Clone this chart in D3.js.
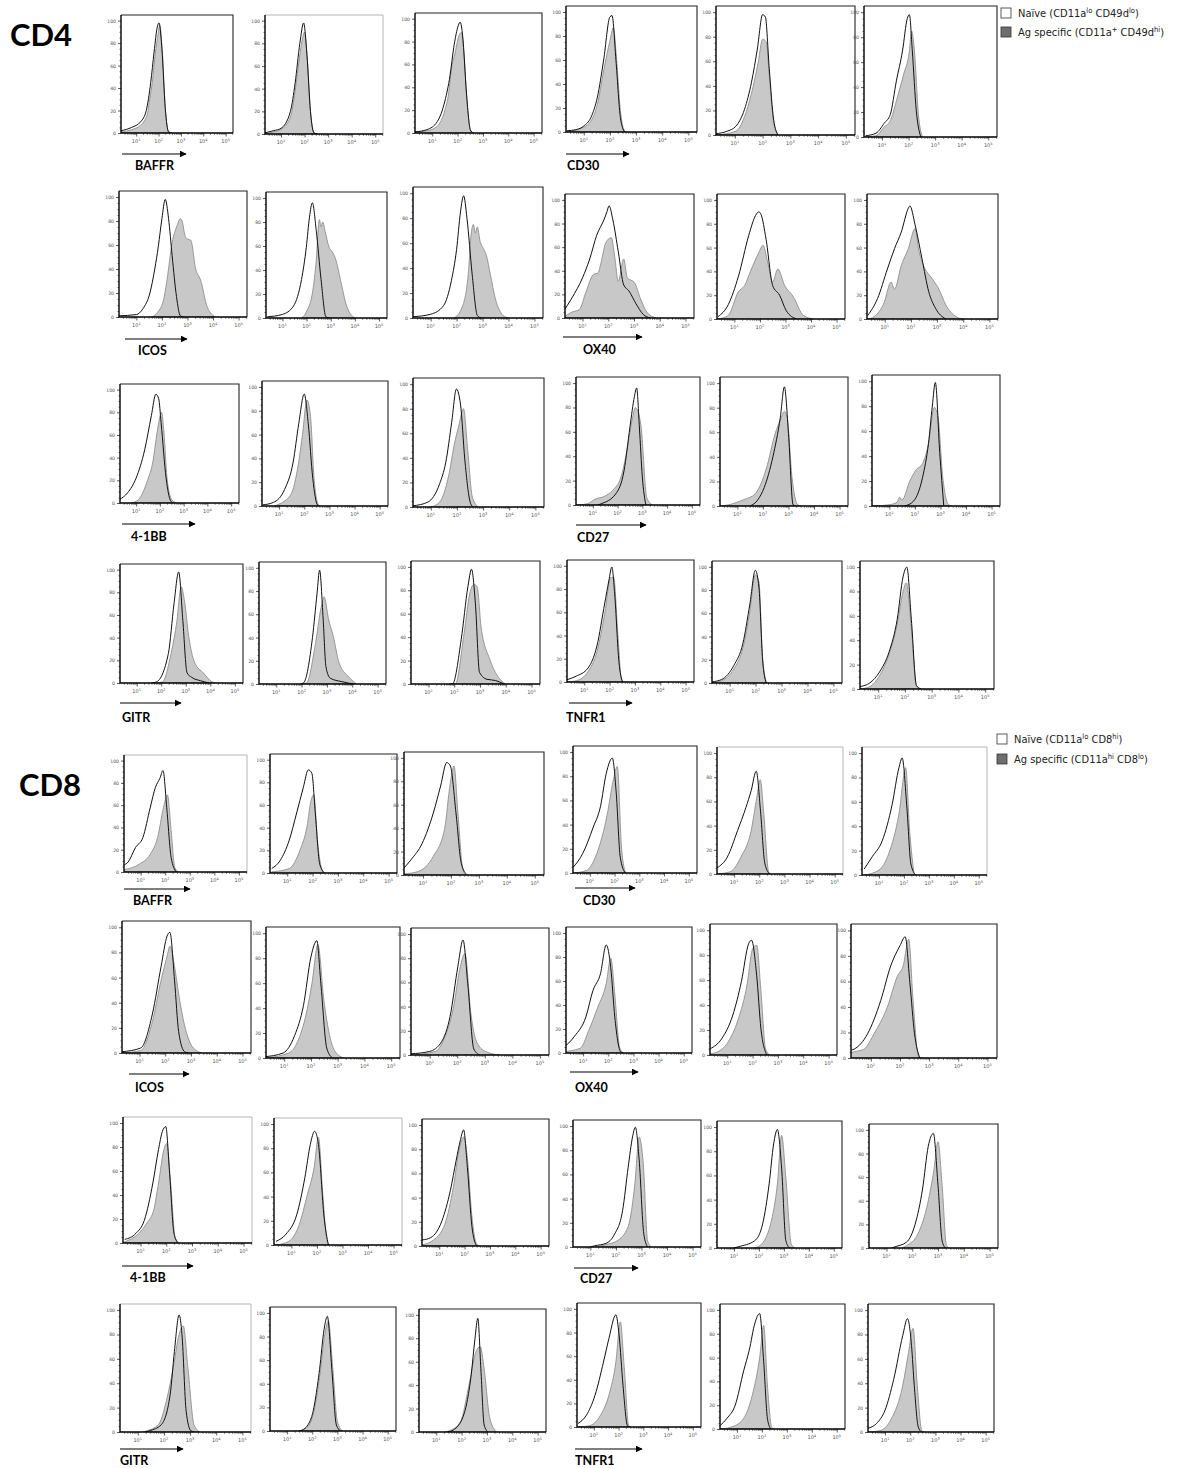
<!DOCTYPE html>
<html>
<head>
<meta charset="utf-8">
<script src="https://cdn.jsdelivr.net/npm/d3@7"></script>
<style>
  body { margin: 0; background: #fff; }
  svg { display: block; }
</style>
</head>
<body>
<svg id="fig" width="1185" height="1468"></svg>
<script>
// ---- data: histogram outlines as [log10 fluorescence, % of max] ----
const markerPairs = [["BAFFR", "CD30"], ["ICOS", "OX40"], ["4-1BB", "CD27"], ["GITR", "TNFR1"]];
const blockNames = ["CD4", "CD8"];
const yTicks = [0, 20, 40, 60, 80, 100];
const xDecades = [1, 2, 3, 4, 5];

const cd4Legend = [
  [["Naïve (CD11a", 0], ["lo", 1], [" CD49d", 0], ["lo", 1], [")", 0]],
  [["Ag specific  (CD11a", 0], ["+", 1], [" CD49d", 0], ["hi", 1], [")", 0]]
];
const cd8Legend = [
  [["Naïve (CD11a", 0], ["lo", 1], [" CD8", 0], ["hi", 1], [")", 0]],
  [["Ag specific  (CD11a", 0], ["hi", 1], [" CD8", 0], ["lo", 1], [")", 0]]
];

// CD4
const cd4BaffrNaive = [
  [[0.32,2],[0.8,5],[1.2,10],[1.45,20],[1.65,45],[1.8,72],[1.95,95],[2.02,98],[2.15,75],[2.3,22],[2.45,1],[2.6,0]],
  [[0.32,1],[0.7,3],[1.0,5],[1.4,20],[1.6,45],[1.8,80],[1.96,98],[2.1,70],[2.25,20],[2.4,1],[2.55,0]],
  [[0.32,1],[0.8,3],[1.2,10],[1.5,28],[1.7,50],[1.85,75],[2.0,92],[2.1,97],[2.2,85],[2.35,35],[2.5,3],[2.6,0]]
];
const cd4BaffrAg = [
  [[0.32,1],[0.8,3],[1.2,7],[1.5,17],[1.6,30],[1.7,42],[1.85,70],[1.98,88],[2.05,96],[2.17,72],[2.3,22],[2.45,1],[2.6,0]],
  [[0.32,0],[0.7,2],[1.0,4],[1.4,15],[1.6,38],[1.8,70],[1.92,85],[2.0,90],[2.12,65],[2.25,20],[2.4,1],[2.55,0]],
  [[0.32,1],[0.8,2],[1.2,6],[1.5,20],[1.65,35],[1.75,55],[1.9,70],[2.05,85],[2.15,88],[2.25,70],[2.38,25],[2.52,2],[2.65,0]]
];
const cd4Cd30Naive = [
  [[0.35,1],[0.71,2],[1.0,5],[1.27,12],[1.52,29],[1.76,60],[2.0,96],[2.08,97],[2.24,57],[2.4,12],[2.56,0]],
  [[0.32,1],[0.71,3],[1.03,7],[1.35,21],[1.6,43],[1.81,70],[2.0,98],[2.1,96],[2.24,54],[2.4,12],[2.56,0]],
  [[0.38,1],[0.77,3],[1.08,11],[1.31,18],[1.54,45],[1.77,69],[1.95,95],[2.03,98],[2.14,69],[2.29,21],[2.46,0]]
];
const cd4Cd30Ag = [
  [[0.35,0],[1.0,4],[1.27,9],[1.52,23],[1.76,51],[2.0,76],[2.13,87],[2.24,65],[2.4,18],[2.56,1],[2.65,0]],
  [[0.32,0],[1.03,3],[1.35,15],[1.6,34],[1.84,59],[2.0,78],[2.13,76],[2.24,48],[2.4,10],[2.56,0]],
  [[0.38,0],[0.77,1],[1.08,8],[1.31,13],[1.54,29],[1.81,50],[2.03,69],[2.11,85],[2.22,69],[2.37,18],[2.52,0]]
];
const cd4IcosNaive = [
  [[0.3,1],[1.0,2],[1.26,7],[1.53,20],[1.72,40],[1.86,59],[2.0,82],[2.13,98],[2.26,82],[2.4,51],[2.57,17],[2.72,1],[2.85,0]],
  [[0.37,1],[1.0,3],[1.46,10],[1.79,32],[1.99,59],[2.12,84],[2.24,96],[2.4,73],[2.6,32],[2.8,1],[2.95,0]],
  [[0.3,1],[1.0,3],[1.5,10],[1.8,30],[2.0,55],[2.15,85],[2.27,98],[2.4,80],[2.6,35],[2.8,2],[2.95,0]]
];
const cd4IcosAg = [
  [[1.6,0],[1.79,3],[2.06,14],[2.2,31],[2.4,62],[2.59,76],[2.72,82],[2.79,80],[2.9,68],[2.99,65],[3.13,64],[3.32,40],[3.51,31],[3.78,8],[4.1,0]],
  [[1.8,0],[1.99,5],[2.26,23],[2.4,48],[2.53,82],[2.6,76],[2.67,80],[2.77,72],[2.93,59],[3.07,55],[3.22,48],[3.4,32],[3.66,10],[3.99,0]],
  [[1.9,0],[2.2,8],[2.45,35],[2.55,65],[2.65,75],[2.72,68],[2.8,73],[2.9,62],[3.05,55],[3.15,50],[3.3,35],[3.5,15],[3.8,2],[4.0,0]]
];
const cd4Ox40Naive = [
  [[0.24,5],[0.59,17],[1.0,34],[1.28,50],[1.55,70],[1.83,83],[1.95,90],[2.03,95],[2.18,83],[2.39,56],[2.6,28],[2.8,23],[3.08,12],[3.36,3],[3.64,0]],
  [[0.36,2],[0.76,12],[1.16,36],[1.56,70],[1.83,87],[1.95,90],[2.04,88],[2.24,67],[2.5,28],[2.77,20],[3.03,7],[3.43,0]],
  [[0.35,3],[0.72,17],[1.1,42],[1.37,59],[1.63,73],[1.9,93],[1.96,95],[2.16,79],[2.42,51],[2.68,23],[2.94,9],[3.33,0]]
];
const cd4Ox40Ag = [
  [[0.24,0],[0.59,5],[0.87,7],[1.15,23],[1.43,37],[1.6,38],[1.7,45],[1.91,64],[2.12,68],[2.25,52],[2.39,31],[2.6,50],[2.74,34],[3.02,30],[3.24,17],[3.5,5],[3.85,0]],
  [[0.36,0],[0.76,3],[1.16,23],[1.4,28],[1.63,40],[1.96,56],[2.12,62],[2.3,48],[2.5,31],[2.7,42],[2.97,28],[3.3,19],[3.7,3],[4.1,0]],
  [[0.35,0],[0.59,2],[0.98,14],[1.24,31],[1.37,25],[1.63,45],[1.9,59],[2.16,76],[2.29,59],[2.48,45],[2.81,34],[3.07,25],[3.33,12],[3.72,2],[3.98,0]]
];
const cd4FourOneBbNaive = [
  [[0.29,3],[0.64,9],[1.0,22],[1.36,47],[1.64,77],[1.83,96],[1.95,92],[2.05,71],[2.26,22],[2.45,2],[2.55,0]],
  [[0.36,1],[0.77,3],[1.22,14],[1.56,37],[1.78,69],[2.0,94],[2.16,69],[2.34,23],[2.52,1],[2.6,0]],
  [[0.32,1],[0.89,4],[1.34,19],[1.57,36],[1.8,69],[1.98,96],[2.14,83],[2.3,39],[2.52,3],[2.62,0]]
];
const cd4FourOneBbAg = [
  [[0.8,0],[1.1,3],[1.48,20],[1.71,37],[1.88,62],[2.07,80],[2.17,62],[2.3,22],[2.5,3],[2.7,0]],
  [[0.8,0],[1.45,9],[1.78,37],[1.93,60],[2.11,89],[2.25,75],[2.39,23],[2.57,1],[2.65,0]],
  [[1.0,0],[1.34,4],[1.68,25],[1.91,52],[2.07,66],[2.25,80],[2.41,47],[2.59,8],[2.82,0]]
];
const cd4Cd27Naive = [
  [[1.2,0],[1.34,1],[1.92,9],[2.26,28],[2.5,64],[2.68,89],[2.77,96],[2.88,64],[3.0,23],[3.14,0]],
  [[1.5,0],[1.8,5],[2.05,15],[2.39,40],[2.68,72],[2.84,97],[3.0,59],[3.18,1],[3.3,0]],
  [[1.6,0],[1.95,4],[2.3,23],[2.53,50],[2.68,80],[2.8,99],[2.97,43],[3.13,0]]
];
const cd4Cd27Ag = [
  [[0.38,0],[0.77,1],[1.11,5],[1.46,7],[1.8,12],[2.14,23],[2.38,45],[2.61,72],[2.72,80],[2.77,79],[2.95,64],[3.18,6],[3.41,0]],
  [[0.39,0],[0.66,1],[1.23,5],[1.7,10],[2.14,31],[2.48,59],[2.68,70],[2.84,77],[2.95,72],[3.14,23],[3.36,1],[3.5,0]],
  [[0.36,0],[1.0,1],[1.3,3],[1.4,7],[1.5,5],[1.8,20],[2.05,29],[2.3,34],[2.53,50],[2.76,79],[2.9,72],[3.09,23],[3.32,1],[3.45,0]]
];
const cd4GitrNaive = [
  [[1.6,0],[1.81,1],[2.29,26],[2.52,70],[2.71,98],[2.88,55],[3.05,9],[3.24,5],[3.6,2],[3.95,0]],
  [[1.95,0],[2.08,1],[2.43,40],[2.61,78],[2.71,98],[2.85,56],[2.96,15],[3.13,5],[3.59,2],[4.06,0]],
  [[1.8,0],[1.93,0],[2.27,38],[2.53,83],[2.67,98],[2.82,69],[2.98,10],[3.27,4],[3.6,3],[3.93,0]]
];
const cd4GitrAg = [
  [[1.8,0],[2.05,1],[2.4,26],[2.64,55],[2.81,85],[2.95,72],[3.12,41],[3.36,18],[3.71,9],[4.07,1],[4.2,0]],
  [[2.05,0],[2.2,1],[2.55,35],[2.78,67],[2.89,75],[3.06,56],[3.25,41],[3.48,18],[3.82,7],[4.17,0]],
  [[1.9,0],[2.04,0],[2.38,43],[2.6,77],[2.76,85],[2.89,83],[3.04,49],[3.38,21],[3.82,3],[4.0,0]]
];
const cd4Tnfr1Naive = [
  [[0.32,2],[0.68,5],[1.15,12],[1.5,31],[1.81,68],[1.97,87],[2.09,99],[2.2,76],[2.37,17],[2.51,0]],
  [[0.32,1],[0.69,3],[1.16,15],[1.51,34],[1.78,68],[1.99,97],[2.13,82],[2.27,20],[2.41,0]],
  [[0.32,2],[0.69,5],[1.05,14],[1.4,30],[1.71,57],[1.93,92],[2.07,100],[2.24,57],[2.43,3],[2.6,0]]
];
const cd4Tnfr1Ag = [
  [[0.32,0],[0.68,1],[1.15,9],[1.5,26],[1.81,59],[2.05,90],[2.16,90],[2.33,40],[2.47,2],[2.6,0]],
  [[0.32,0],[0.69,2],[1.16,12],[1.51,30],[1.78,62],[1.99,93],[2.13,87],[2.27,22],[2.43,0]],
  [[0.32,0],[0.69,2],[1.05,11],[1.4,28],[1.71,53],[1.93,80],[2.05,87],[2.24,50],[2.43,2],[2.6,0]]
];

// CD8
const cd8BaffrNaive = [
  [[0.28,6],[0.49,9],[0.79,22],[1.09,31],[1.39,58],[1.6,76],[1.78,84],[1.91,91],[2.06,58],[2.24,13],[2.45,0]],
  [[0.39,4],[0.72,11],[1.08,29],[1.36,52],[1.64,76],[1.83,91],[1.97,88],[2.11,52],[2.28,8],[2.47,0]],
  [[0.32,6],[0.57,13],[0.97,27],[1.37,53],[1.63,76],[1.85,96],[1.98,93],[2.18,53],[2.37,10],[2.58,0]]
];
const cd8BaffrAg = [
  [[0.28,2],[0.94,7],[1.39,16],[1.69,31],[1.93,58],[2.09,69],[2.24,37],[2.39,4],[2.54,0]],
  [[0.39,1],[1.08,4],[1.5,20],[1.78,41],[1.94,64],[2.05,69],[2.19,29],[2.39,2],[2.5,0]],
  [[0.32,1],[0.83,3],[1.37,16],[1.77,39],[1.98,79],[2.11,93],[2.25,53],[2.43,4],[2.55,0]]
];
const cd8Cd30Naive = [
  [[0.34,5],[0.71,16],[1.14,38],[1.43,55],[1.66,82],[1.91,95],[2.06,68],[2.23,13],[2.43,0]],
  [[0.32,5],[0.73,14],[1.14,36],[1.47,55],[1.68,69],[1.88,85],[2.05,52],[2.22,9],[2.41,0]],
  [[0.41,5],[0.73,15],[1.13,28],[1.53,58],[1.8,88],[1.93,96],[2.12,55],[2.28,9],[2.47,0]]
];
const cd8Cd30Ag = [
  [[0.34,0],[0.85,2],[1.28,16],[1.71,49],[1.94,76],[2.11,88],[2.28,21],[2.45,0]],
  [[0.32,0],[0.86,2],[1.27,14],[1.68,36],[1.9,63],[2.04,78],[2.18,50],[2.37,2],[2.45,0]],
  [[0.41,0],[1.0,4],[1.4,18],[1.8,50],[2.07,88],[2.23,36],[2.41,0]]
];
const cd8IcosNaive = [
  [[0.32,1],[1.05,4],[1.5,31],[1.84,69],[2.07,93],[2.18,96],[2.36,58],[2.52,17],[2.75,1],[2.9,0]],
  [[0.26,1],[0.96,4],[1.39,18],[1.72,42],[2.0,81],[2.22,94],[2.37,60],[2.59,8],[2.8,0]],
  [[0.32,1],[1.0,3],[1.43,11],[1.74,32],[2.02,73],[2.21,95],[2.38,59],[2.6,5],[2.81,0]]
];
const cd8IcosAg = [
  [[0.32,0],[1.05,2],[1.5,25],[1.84,58],[2.07,77],[2.18,85],[2.36,69],[2.52,47],[2.75,22],[3.09,4],[3.43,0]],
  [[0.26,0],[1.17,4],[1.5,13],[1.83,36],[2.04,60],[2.26,91],[2.48,47],[2.7,18],[2.91,5],[3.24,0]],
  [[0.32,0],[1.21,3],[1.53,14],[1.85,38],[2.11,73],[2.28,84],[2.49,35],[2.7,11],[3.02,3],[3.55,0]]
];
const cd8Ox40Naive = [
  [[0.2,4],[0.66,14],[1.11,30],[1.39,52],[1.69,66],[1.92,90],[2.1,71],[2.26,30],[2.49,1],[2.6,0]],
  [[0.33,5],[0.78,13],[1.22,32],[1.56,59],[1.84,89],[1.96,92],[2.16,64],[2.33,21],[2.56,0]],
  [[0.09,5],[0.43,7],[0.89,19],[1.34,45],[1.68,72],[2.0,88],[2.18,95],[2.34,59],[2.5,19],[2.68,0]]
];
const cd8Ox40Ag = [
  [[0.2,1],[0.89,4],[1.23,19],[1.58,38],[1.92,58],[2.1,79],[2.26,49],[2.45,5],[2.6,0]],
  [[0.33,1],[0.67,3],[1.11,13],[1.44,29],[1.78,56],[2.0,85],[2.16,88],[2.33,51],[2.51,5],[2.67,0]],
  [[0.09,1],[0.32,4],[0.77,7],[1.11,19],[1.57,40],[1.91,64],[2.11,72],[2.3,93],[2.45,45],[2.64,1],[2.8,0]]
];
const cd8FourOneBbNaive = [
  [[0.39,3],[0.82,8],[1.15,19],[1.48,50],[1.7,78],[1.85,93],[1.98,97],[2.13,58],[2.3,8],[2.46,0]],
  [[0.4,3],[0.79,9],[1.21,25],[1.53,56],[1.74,83],[1.91,94],[2.06,83],[2.28,23],[2.45,0]],
  [[0.33,5],[0.67,7],[1.11,21],[1.44,46],[1.67,71],[1.84,88],[1.96,96],[2.11,65],[2.29,16],[2.47,0]]
];
const cd8FourOneBbAg = [
  [[0.39,1],[0.93,8],[1.26,17],[1.52,28],[1.7,50],[1.91,78],[2.02,83],[2.17,50],[2.35,4],[2.5,0]],
  [[0.4,0],[0.9,3],[1.31,17],[1.63,42],[1.89,64],[2.06,89],[2.23,42],[2.4,3],[2.5,0]],
  [[0.33,1],[0.78,5],[1.22,18],[1.56,49],[1.78,79],[1.96,90],[2.11,73],[2.29,24],[2.47,2],[2.6,0]]
];
const cd8Cd27Naive = [
  [[1.0,0],[1.17,1],[1.61,3],[1.93,10],[2.26,30],[2.48,66],[2.65,91],[2.76,99],[2.91,72],[3.09,11],[3.24,0]],
  [[1.0,0],[1.17,1],[1.83,6],[2.15,20],[2.41,53],[2.59,86],[2.74,98],[2.91,66],[3.08,6],[3.23,0]],
  [[1.2,0],[1.33,1],[1.78,5],[2.11,20],[2.4,50],[2.62,86],[2.82,97],[3.0,53],[3.16,6],[3.29,0]]
];
const cd8Cd27Ag = [
  [[1.2,0],[1.61,2],[2.04,5],[2.48,17],[2.74,52],[2.91,91],[3.07,69],[3.24,5],[3.39,0]],
  [[1.8,0],[2.04,2],[2.47,20],[2.74,53],[2.91,93],[3.08,58],[3.3,3],[3.44,0]],
  [[1.6,0],[1.78,2],[2.22,12],[2.56,34],[2.84,66],[3.0,90],[3.16,53],[3.33,2],[3.45,0]]
];
const cd8GitrNaive = [
  [[1.3,0],[1.45,1],[1.9,6],[2.24,31],[2.4,66],[2.58,96],[2.69,80],[2.85,17],[3.03,1],[3.15,0]],
  [[1.45,0],[1.62,1],[1.96,11],[2.29,52],[2.47,86],[2.6,97],[2.78,52],[2.96,5],[3.13,0]],
  [[1.45,0],[1.62,1],[2.04,12],[2.38,49],[2.53,80],[2.64,97],[2.76,54],[2.89,6],[3.04,0]]
];
const cd8GitrAg = [
  [[1.2,0],[1.34,1],[1.79,6],[2.12,28],[2.35,52],[2.58,80],[2.74,87],[2.92,52],[3.15,6],[3.37,0]],
  [[1.5,0],[1.84,4],[2.1,20],[2.33,52],[2.5,82],[2.64,93],[2.82,52],[3.0,8],[3.2,0]],
  [[1.35,0],[1.51,1],[1.96,9],[2.29,40],[2.56,68],[2.73,73],[2.89,54],[3.11,12],[3.38,0]]
];
const cd8Tnfr1Naive = [
  [[0.36,3],[0.7,10],[1.05,27],[1.39,55],[1.61,75],[1.89,95],[2.02,78],[2.18,35],[2.36,1],[2.45,0]],
  [[0.33,3],[0.6,9],[0.93,20],[1.27,49],[1.49,66],[1.72,89],[1.91,97],[2.07,57],[2.22,9],[2.35,0]],
  [[0.31,3],[0.66,7],[1.0,18],[1.34,43],[1.7,79],[1.89,93],[2.05,71],[2.16,38],[2.32,4],[2.45,0]]
];
const cd8Tnfr1Ag = [
  [[0.36,0],[0.81,1],[1.27,10],[1.61,27],[1.89,55],[2.07,89],[2.23,50],[2.41,1],[2.5,0]],
  [[0.33,0],[0.82,2],[1.27,9],[1.61,28],[1.91,60],[2.07,87],[2.22,37],[2.4,1],[2.5,0]],
  [[0.31,0],[0.77,1],[1.23,10],[1.7,38],[1.93,65],[2.11,85],[2.28,38],[2.46,1],[2.55,0]]
];

// rows of [left marker set, right marker set]
const cd4Rows = [
  [[cd4BaffrNaive, cd4BaffrAg], [cd4Cd30Naive, cd4Cd30Ag]],
  [[cd4IcosNaive, cd4IcosAg], [cd4Ox40Naive, cd4Ox40Ag]],
  [[cd4FourOneBbNaive, cd4FourOneBbAg], [cd4Cd27Naive, cd4Cd27Ag]],
  [[cd4GitrNaive, cd4GitrAg], [cd4Tnfr1Naive, cd4Tnfr1Ag]]
];
const cd8Rows = [
  [[cd8BaffrNaive, cd8BaffrAg], [cd8Cd30Naive, cd8Cd30Ag]],
  [[cd8IcosNaive, cd8IcosAg], [cd8Ox40Naive, cd8Ox40Ag]],
  [[cd8FourOneBbNaive, cd8FourOneBbAg], [cd8Cd27Naive, cd8Cd27Ag]],
  [[cd8GitrNaive, cd8GitrAg], [cd8Tnfr1Naive, cd8Tnfr1Ag]]
];

// ---- layout (pixel frames of each pasted panel: left, top, right, bottom) ----
const cd4Frames = [
  [121,15,233,133],[265,15,383,134],[415,13,542,133],[566,6,697,132],[716,6,855,135],[864,6,997,137],
  [119,191,247,317],[266,192,387,318],[413,187,543,318],[565,194,694,318],[717,194,845,319],[867,194,998,319],
  [120,384,239,503],[262,381,388,506],[413,378,544,507],[576,377,700,505],[720,377,848,506],[872,375,1000,506],
  [120,564,243,683],[259,562,386,684],[411,561,540,684],[567,560,694,682],[712,561,842,683],[860,561,994,689]
];
const cd8Frames = [
  [124,755,247,872],[270,754,397,873],[404,752,544,875],[573,746,697,873],[717,747,843,874],[862,747,987,875],
  [122,921,251,1053],[266,927,400,1058],[411,928,549,1055],[566,927,692,1053],[710,924,837,1055],[851,924,997,1058],
  [123,1117,252,1243],[274,1118,402,1245],[422,1119,549,1246],[573,1120,701,1247],[717,1121,842,1248],[869,1124,998,1248],
  [120,1304,251,1432],[270,1307,396,1431],[419,1309,546,1432],[577,1303,701,1427],[720,1304,845,1429],[868,1304,994,1432]
];
// light frame borders on a few panels
const cd4Light = [1];
const cd8Light = [0, 4, 5, 12, 13, 18];

// label: [text x, baseline, arrow x1, arrow x2, arrow y]
const cd4LabelPos = [
  [[135,170,122,186,154],[567,170,566,629,154]],
  [[138,355,125,187,339],[583,354,563,642,337]],
  [[131,541,122,195,524],[577,542,576,646,525]],
  [[122,722,120,181,703],[566,722,569,632,703]]
];
const cd8LabelPos = [
  [[133,905,124,190,889],[583,905,575,635,888]],
  [[135,1092,129,189,1074],[575,1092,570,638,1072]],
  [[130,1282,122,193,1266],[580,1283,574,638,1268]],
  [[120,1465,120,183,1449],[575,1465,575,642,1449]]
];

const xExtent = [Math.pow(10, 0.32), Math.pow(10, 5.33)];
const svg = d3.select("#fig");

svg.append("defs").append("marker")
  .attr("id", "arrow")
  .attr("viewBox", "0 0 10 10")
  .attr("refX", 9).attr("refY", 5)
  .attr("markerWidth", 7).attr("markerHeight", 7)
  .attr("markerUnits", "userSpaceOnUse")
  .attr("orient", "auto")
  .append("path")
  .attr("d", "M0,0L10,5L0,10Z")
  .attr("fill", "context-stroke");

let clipId = 0;

function drawPanel(frame, naive, ag, light) {
  const [L, T, R, B] = frame;
  const x = d3.scaleLog().domain(xExtent).range([L, R]);
  const y = d3.scaleLinear().domain([0, 105]).range([B, T]);
  const g = svg.append("g");

  const id = "clip" + (clipId++);
  svg.select("defs").append("clipPath").attr("id", id)
    .append("rect").attr("x", L).attr("y", T).attr("width", R - L).attr("height", B - T);

  const area = d3.area()
    .x(d => x(Math.pow(10, d[0])))
    .y0(y(0))
    .y1(d => y(d[1]))
    .curve(d3.curveMonotoneX);
  const line = d3.line()
    .x(d => x(Math.pow(10, d[0])))
    .y(d => y(d[1]))
    .curve(d3.curveMonotoneX);

  const plot = g.append("g").attr("clip-path", `url(#${id})`);
  plot.append("path")
    .datum(ag)
    .attr("fill", "#c8c8c8")
    .attr("stroke", "#8f8f8f")
    .attr("stroke-width", 0.9)
    .attr("d", area);
  plot.append("path")
    .datum(naive)
    .attr("fill", "none")
    .attr("stroke", "#111")
    .attr("stroke-width", 1)
    .attr("d", line);

  // frame top + right
  g.append("path")
    .attr("d", `M${L},${T}H${R}V${B}`)
    .attr("fill", "none")
    .attr("stroke", light ? "#b5b5b5" : "#222")
    .attr("stroke-width", light ? 1 : 1.1);

  // x axis: major decades and minor ticks
  const minor = [];
  for (let k = 0; k <= 5; k++) {
    for (let m = 2; m <= 9; m++) {
      const v = m * Math.pow(10, k);
      if (v > xExtent[0] && v < xExtent[1]) minor.push(v);
    }
  }
  const xAx = g.append("g")
    .attr("transform", `translate(0,${B})`)
    .call(d3.axisBottom(x).tickValues(xDecades.map(d => Math.pow(10, d))).tickSize(3.5).tickFormat(""));
  xAx.call(a => a.select(".domain").remove());
  xAx.selectAll("line").attr("stroke", "#333").attr("stroke-width", 0.8);
  const xMin = g.append("g")
    .attr("transform", `translate(0,${B})`)
    .call(d3.axisBottom(x).tickValues(minor).tickSize(2).tickFormat(""));
  xMin.call(a => a.select(".domain").remove());
  xMin.selectAll("line").attr("stroke", "#444").attr("stroke-width", 0.6);

  const lab = g.append("g")
    .attr("font-family", "DejaVu Sans, sans-serif")
    .attr("font-size", 5)
    .attr("fill", "#555")
    .selectAll("text")
    .data(xDecades)
    .join("text")
    .attr("x", d => x(Math.pow(10, d)))
    .attr("y", B + 10)
    .attr("text-anchor", "middle");
  lab.append("tspan").text("10");
  lab.append("tspan").attr("dy", -2).attr("font-size", 3.6).text(d => d);

  // y axis
  const yAx = g.append("g")
    .attr("transform", `translate(${L},0)`)
    .call(d3.axisLeft(y).tickValues(yTicks).tickSize(3).tickPadding(2));
  yAx.call(a => a.select(".domain").remove());
  yAx.selectAll("line").attr("stroke", "#333").attr("stroke-width", 0.8);
  yAx.selectAll("text")
    .attr("font-family", "DejaVu Sans, sans-serif")
    .attr("font-size", 4.6)
    .attr("fill", "#555");
  const yMin = g.append("g")
    .attr("transform", `translate(${L},0)`)
    .call(d3.axisLeft(y).tickValues(d3.range(5, 100, 5).filter(v => v % 20 !== 0)).tickSize(1.6).tickFormat(""));
  yMin.call(a => a.select(".domain").remove());
  yMin.selectAll("line").attr("stroke", "#444").attr("stroke-width", 0.6);

  // axis lines (left + bottom)
  g.append("path")
    .attr("d", `M${L},${T}V${B}H${R}`)
    .attr("fill", "none")
    .attr("stroke", "#000")
    .attr("stroke-width", 1.4);
}

function drawBlock(rows, frames, lightList, labelPos) {
  rows.forEach((row, r) => {
    for (let c = 0; c < 6; c++) {
      const set = row[c < 3 ? 0 : 1];
      const idx = r * 6 + c;
      drawPanel(frames[idx], set[0][c % 3], set[1][c % 3], lightList.includes(idx));
    }
    [0, 1].forEach(side => {
      const [tx, ty, ax1, ax2, ay] = labelPos[r][side];
      svg.append("line")
        .attr("x1", ax1).attr("x2", ax2)
        .attr("y1", ay).attr("y2", ay)
        .attr("stroke", "#000")
        .attr("stroke-width", 1.2)
        .attr("marker-end", "url(#arrow)");
      svg.append("text")
        .attr("x", tx).attr("y", ty)
        .attr("font-family", "Lato, 'Open Sans', sans-serif")
        .attr("font-weight", "bold")
        .attr("font-size", 12.5)
        .attr("fill", "#000")
        .text(markerPairs[r][side]);
    });
  });
}

drawBlock(cd4Rows, cd4Frames, cd4Light, cd4LabelPos);
drawBlock(cd8Rows, cd8Frames, cd8Light, cd8LabelPos);

// block titles
svg.append("text").attr("x", 10).attr("y", 46)
  .attr("font-family", "Lato, sans-serif").attr("font-weight", "bold").attr("font-size", 31)
  .text(blockNames[0]);
svg.append("text").attr("x", 19).attr("y", 796)
  .attr("font-family", "Lato, sans-serif").attr("font-weight", "bold").attr("font-size", 31)
  .text(blockNames[1]);

// legends
function drawLegend(entries, x0, y0, gap) {
  const g = svg.append("g");
  entries.forEach((parts, i) => {
    const yy = y0 + i * gap;
    g.append("rect")
      .attr("x", x0).attr("y", yy - 9)
      .attr("width", 10).attr("height", 10)
      .attr("fill", i === 0 ? "#fff" : "#6e6e6e")
      .attr("stroke", "#333").attr("stroke-width", 0.8);
    const t = g.append("text")
      .attr("x", x0 + 17).attr("y", yy)
      .attr("font-family", "'Liberation Sans Narrow', 'DejaVu Sans Condensed', sans-serif")
      .attr("font-size", 11)
      .attr("fill", "#222");
    let up = false;
    parts.forEach(([s, sup]) => {
      const sp = t.append("tspan").text(s);
      if (sup && !up) { sp.attr("dy", -4).attr("font-size", 7.5); up = true; }
      else if (sup) { sp.attr("font-size", 7.5); }
      else if (up) { sp.attr("dy", 4); up = false; }
    });
  });
}
drawLegend(cd4Legend, 1001, 17, 19);
drawLegend(cd8Legend, 997, 743, 20);
</script>
</body>
</html>
